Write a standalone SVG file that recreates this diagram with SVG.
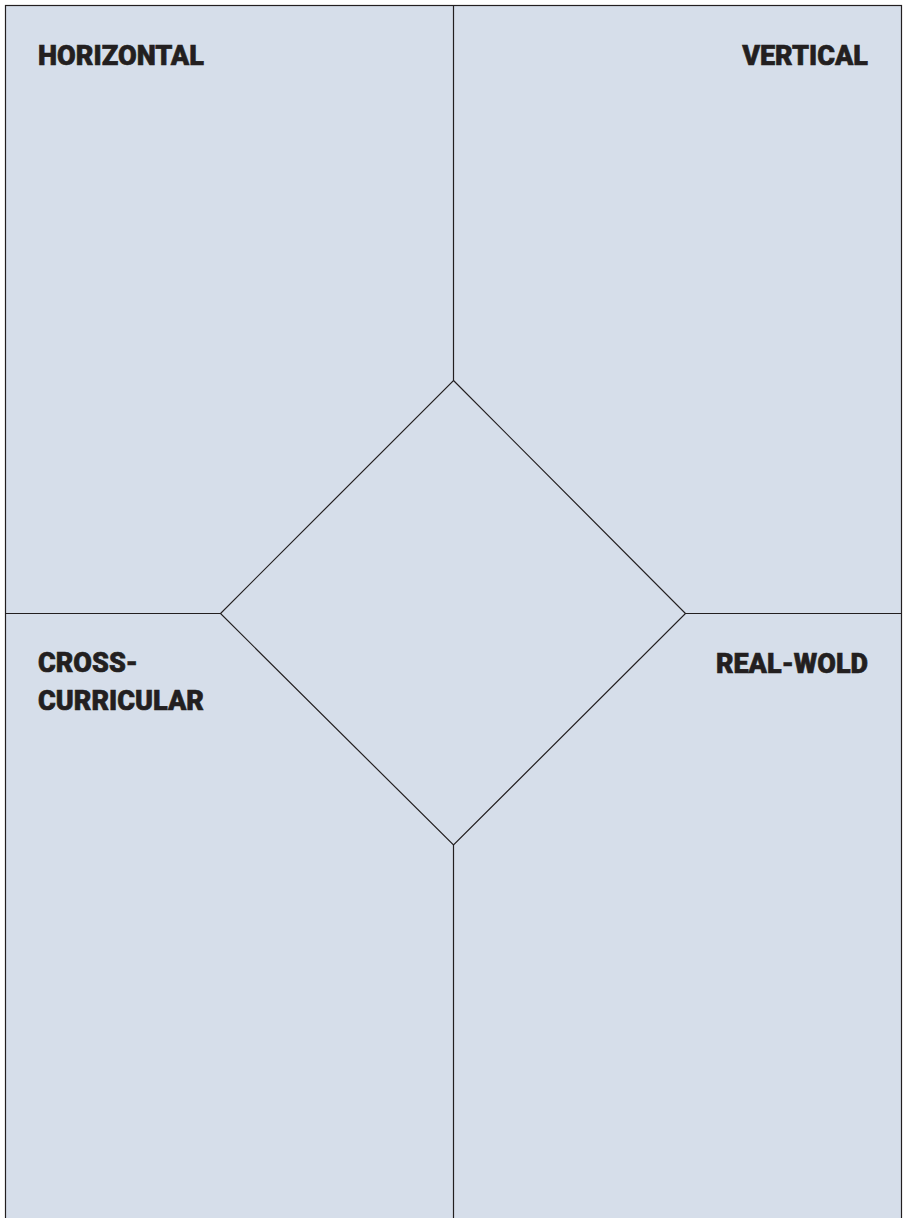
<svg xmlns="http://www.w3.org/2000/svg" width="906" height="1218" viewBox="0 0 906 1218">
<style>
.ln{fill:none;stroke:#231f20;stroke-width:1.2}
.lbl{font-family:Roboto,"Liberation Sans",sans-serif;font-weight:900;font-size:27px;fill:#231f20;stroke:#231f20;stroke-width:0.6}
</style>
<rect x="0" y="0" width="906" height="1218" fill="#ffffff"/>
<g id="frame">
<rect x="5.5" y="5.5" width="896" height="1230" fill="#d6deea" stroke="#231f20" stroke-width="1.2"/>
</g>
<g id="connectors">
<line class="ln" x1="453.5" y1="5.5" x2="453.5" y2="380.5"/>
<line class="ln" x1="453.5" y1="845" x2="453.5" y2="1218"/>
<line class="ln" x1="5.5" y1="613.5" x2="220.5" y2="613.5"/>
<line class="ln" x1="685.5" y1="613.5" x2="901.5" y2="613.5"/>
</g>
<g id="center">
<polygon class="ln" points="453.5,380.5 685.5,613.5 453.5,845 220.5,613.5"/>
</g>
<g id="horizontal"><text class="lbl" x="38" y="65" textLength="166" lengthAdjust="spacingAndGlyphs">HORIZONTAL</text></g>
<g id="vertical"><text class="lbl" x="868" y="65" text-anchor="end">VERTICAL</text></g>
<g id="cross"><text class="lbl" x="38" y="672">CROSS-</text><text class="lbl" x="38" y="710" textLength="166" lengthAdjust="spacingAndGlyphs">CURRICULAR</text></g>
<g id="realworld"><text class="lbl" x="868" y="673" text-anchor="end">REAL-WOLD</text></g>
</svg>
